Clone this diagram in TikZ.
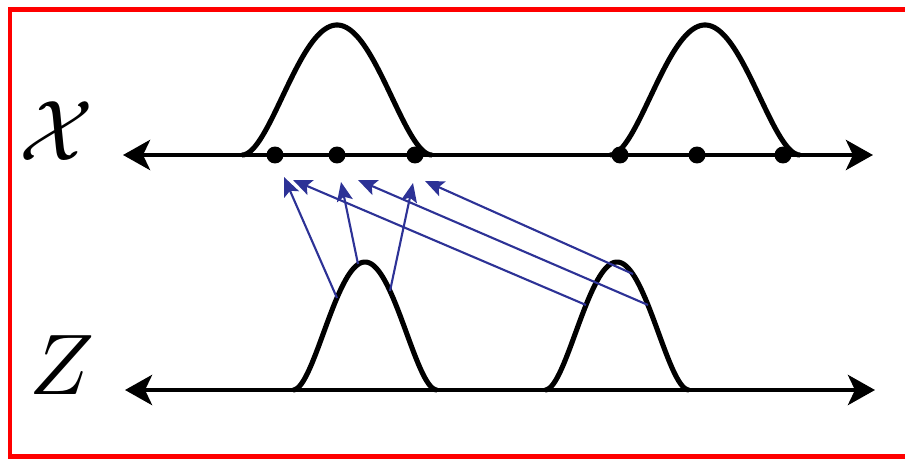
\documentclass[tikz,border=0pt]{standalone}
\usetikzlibrary{arrows.meta}
\definecolor{linkblue}{RGB}{45,50,150}
\begin{document}
\begin{tikzpicture}[x=0.02cm,y=-0.02cm,
  axis/.style={line width=2.7pt,{Stealth[length=5.4mm,width=6mm,inset=1.4mm]}-{Stealth[length=5.4mm,width=6mm,inset=1.4mm]}},
  bump/.style={line width=2.9pt,line join=round},
  link/.style={draw=linkblue,line width=1.2pt,-{Stealth[length=3.8mm,width=3.2mm,inset=0.8mm]}},
  dot/.style={circle,fill=black,inner sep=0pt,minimum size=0.34cm},
  axislabel/.style={scale=4.9,inner sep=0pt}]
\useasboundingbox (0,0) rectangle (905,459);
\draw[red,line width=2.6pt] (915,9.5) -- (10,9.5) -- (10,456.5) -- (915,456.5);
\node[axislabel] (labx) at (57,131) {$\mathcal{X}$};
\node[axislabel] (labz) at (62,365) {$Z$};
\draw[bump] plot[domain=-95:95,samples=90] ({337+\x},{155-130*(1-(\x/95)*(\x/95))*(1-(\x/95)*(\x/95))});
\draw[bump] plot[domain=-95:95,samples=90] ({705+\x},{155-130*(1-(\x/95)*(\x/95))*(1-(\x/95)*(\x/95))});
\draw[bump] plot[domain=-72:72,samples=70] ({365+\x},{390-128*(1-(\x/72)*(\x/72))*(1-(\x/72)*(\x/72))});
\draw[bump] plot[domain=-72:72,samples=70] ({617+\x},{390-128*(1-(\x/72)*(\x/72))*(1-(\x/72)*(\x/72))});
\draw[axis] (123,155) -- (873,155);
\draw[axis] (125,390) -- (875,390);
\foreach \n/\px in {1/275,2/337,3/415,4/620,5/697,6/783}
  \node[dot] (x\n) at (\px,155) {};
\coordinate (za1) at (337,298);
\coordinate (za2) at (358,264);
\coordinate (za3) at (390,291);
\coordinate (zb1) at (586,305);
\coordinate (zb2) at (648,305);
\coordinate (zb3) at (633,274);
\coordinate (ta1) at (284,177);
\coordinate (ta2) at (341,182);
\coordinate (ta3) at (413,183);
\coordinate (tb1) at (293,180);
\coordinate (tb2) at (358,180);
\coordinate (tb3) at (425,181);
\draw[link] (za1) -- (ta1);
\draw[link] (za2) -- (ta2);
\draw[link] (za3) -- (ta3);
\draw[link] (zb1) -- (tb1);
\draw[link] (zb2) -- (tb2);
\draw[link] (zb3) -- (tb3);
\end{tikzpicture}
\end{document}
